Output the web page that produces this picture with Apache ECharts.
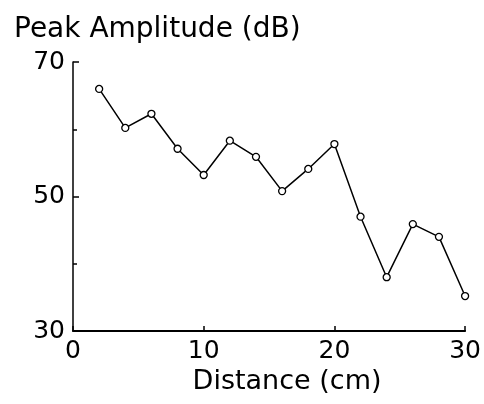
<!DOCTYPE html>
<html>
<head>
<meta charset="utf-8">
<script src="https://cdn.jsdelivr.net/npm/echarts@6/dist/echarts.min.js"></script>
<style>html,body{margin:0;padding:0;background:#fff;}#c{width:484px;height:404px;}</style>
</head>
<body>
<div id="c"></div>
<script>
var distances = [2, 4, 6, 8, 10, 12, 14, 16, 18, 20, 22, 24, 26, 28, 30];
var amplitudes = [66.0, 60.2, 62.3, 57.1, 53.2, 58.3, 55.9, 50.8, 54.1, 57.8, 47.0, 38.0, 45.9, 44.0, 35.2];
var xTicks = [0, 10, 20, 30];
var yTicks = [30, 50, 70];
var yTitle = 'Peak Amplitude (dB)';
var xTitle = 'Distance (cm)';

var font = 'DejaVu Sans';
var chart = echarts.init(document.getElementById('c'), null, {renderer: 'canvas'});
var pts = distances.map(function (d, i) { return [d, amplitudes[i]]; });
chart.setOption({
  animation: false,
  backgroundColor: '#fff',
  title: {
    text: yTitle, left: 9, top: 11,
    textStyle: {fontFamily: font, fontSize: 28, fontWeight: 'normal', color: '#000'}
  },
  grid: {left: 73, right: 16, top: 62, bottom: 73, containLabel: false},
  xAxis: {
    type: 'value', min: xTicks[0], max: xTicks[xTicks.length - 1], interval: 10,
    name: xTitle, nameLocation: 'middle', nameGap: 32,
    nameTextStyle: {fontFamily: font, fontSize: 27, color: '#000', padding: [0, 0, 0, 36]},
    axisLine: {lineStyle: {color: '#000', width: 2}},
    axisTick: {inside: true, length: 5, lineStyle: {color: '#000', width: 1.5}},
    axisLabel: {fontFamily: font, fontSize: 25, color: '#000', margin: 8},
    splitLine: {show: false}
  },
  yAxis: {
    type: 'value', min: yTicks[0], max: yTicks[yTicks.length - 1], interval: 20,
    axisLine: {lineStyle: {color: '#000', width: 1.5}},
    axisTick: {inside: true, length: 6, lineStyle: {color: '#000', width: 1.5}},
    minorTick: {show: true, splitNumber: 2, length: 4, lineStyle: {color: '#000', width: 1.5}},
    axisLabel: {fontFamily: font, fontSize: 25, color: '#000', margin: 8},
    splitLine: {show: false}
  },
  series: [{
    type: 'line', data: pts,
    symbol: 'circle', symbolSize: 7,
    lineStyle: {color: '#000', width: 1.5},
    itemStyle: {color: '#fff', borderColor: '#000', borderWidth: 1.3}
  }]
});
</script>
</body>
</html>
